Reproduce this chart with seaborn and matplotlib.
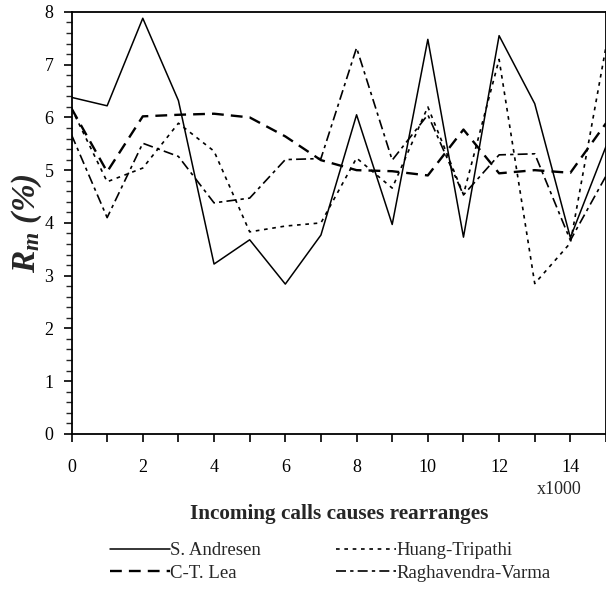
import numpy as np
import pandas as pd
import matplotlib
matplotlib.use("Agg")
import matplotlib.pyplot as plt
import seaborn as sns

# values (x in thousands of incoming calls)
calls = list(range(16))
andresen = [6.38, 6.22, 7.88, 6.32, 3.22, 3.68, 2.84, 3.77, 6.05, 3.97, 7.48, 3.73, 7.55, 6.26, 3.72, 5.45]
lea = [6.17, 4.97, 6.02, 6.05, 6.07, 6.0, 5.64, 5.19, 5.0, 4.98, 4.9, 5.77, 4.94, 5.0, 4.95, 5.89]
huang = [6.17, 4.78, 5.04, 5.89, 5.36, 3.83, 3.94, 4.0, 5.23, 4.66, 6.2, 4.54, 7.1, 2.85, 3.62, 7.34]
raghavendra = [5.67, 4.1, 5.51, 5.26, 4.38, 4.47, 5.2, 5.22, 7.32, 5.19, 6.05, 4.53, 5.29, 5.31, 3.67, 4.89]

names = ["S. Andresen", "C-T. Lea", "Huang-Tripathi", "Raghavendra-Varma"]
series = [andresen, lea, huang, raghavendra]

df = pd.DataFrame({
    "calls": np.tile(calls, len(names)),
    "rm": np.concatenate(series),
    "method": np.repeat(names, len(calls)),
})

sns.set_style("ticks")
plt.rcParams["font.family"] = ["Liberation Serif", "DejaVu Serif"]
plt.rcParams["mathtext.fontset"] = "custom"
plt.rcParams["mathtext.rm"] = "Liberation Serif:bold:italic"
plt.rcParams["mathtext.it"] = "Liberation Serif:bold:italic"
plt.rcParams["mathtext.bf"] = "Liberation Serif:bold:italic"

fig = plt.figure(figsize=(6.06, 5.96), dpi=100)
ax = fig.add_axes([0.118, 0.272, 0.882, 0.708])

dash_map = {
    "S. Andresen": "",
    "C-T. Lea": (5, 3),
    "Huang-Tripathi": (2.2, 2.8),
    "Raghavendra-Varma": (6, 2.5, 2, 2.5),
}
sns.lineplot(data=df, x="calls", y="rm", style="method", style_order=names,
             dashes=dash_map, color="black", ax=ax, legend=False)
widths = [1.1, 1.7, 1.2, 1.2]
for line, w in zip(ax.get_lines(), widths):
    line.set_linewidth(w)

ax.set_xlim(0, 15)
ax.set_ylim(0, 8)
ax.set_xticks(range(0, 16))
ax.set_xticklabels([str(v) if v % 2 == 0 else "" for v in range(16)])
ax.set_yticks(range(0, 9))
ax.set_yticks(np.arange(0, 8.01, 0.2), minor=True)
ax.tick_params(axis="both", which="major", direction="out", length=6, width=1.2,
               labelsize=13, colors="black", pad=12)
ax.tick_params(axis="y", which="major", pad=7)
ax.tick_params(axis="y", which="minor", direction="out", length=4, width=1.0)
for sp in ax.spines.values():
    sp.set_linewidth(1.3)
    sp.set_color("black")

ax.set_xlabel("Incoming calls causes rearranges", fontsize=15.3, fontweight="bold", labelpad=20)
ax.set_ylabel(r"$R_m\ (\%)$", fontsize=24, labelpad=0)
fig.text(0.922, 0.178, "x1000", fontsize=13, ha="center", va="center")

handles = ax.get_lines()
fig.legend(handles, names, ncol=2, loc="center", bbox_to_anchor=(0.545, 0.057),
           frameon=False, fontsize=13.5, handlelength=3.2, handletextpad=0.0,
           columnspacing=4.0, labelspacing=0.3)

fig.savefig("out.png", dpi=100, facecolor="white")
